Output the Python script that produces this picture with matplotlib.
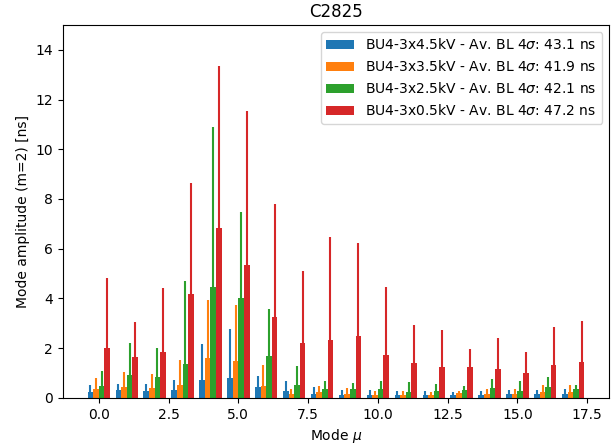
import numpy as np
import matplotlib
matplotlib.use('Agg')
import matplotlib.pyplot as plt

# номера мод
modes = np.arange(18)

labels = [
    r'BU4-3x4.5kV - Av. BL 4$\sigma$: 43.1 ns',
    r'BU4-3x3.5kV - Av. BL 4$\sigma$: 41.9 ns',
    r'BU4-3x2.5kV - Av. BL 4$\sigma$: 42.1 ns',
    r'BU4-3x0.5kV - Av. BL 4$\sigma$: 47.2 ns',
]

# средние амплитуды
amp_45 = [0.22, 0.30, 0.26, 0.32, 0.73, 0.80, 0.45, 0.26, 0.16, 0.12, 0.11, 0.11, 0.10, 0.12, 0.12, 0.14, 0.16, 0.16]
amp_35 = [0.36, 0.45, 0.40, 0.53, 1.59, 1.48, 0.47, 0.16, 0.23, 0.15, 0.11, 0.11, 0.10, 0.18, 0.16, 0.16, 0.23, 0.23]
amp_25 = [0.49, 0.93, 0.84, 1.35, 4.47, 4.00, 1.67, 0.53, 0.36, 0.36, 0.34, 0.23, 0.26, 0.31, 0.38, 0.26, 0.42, 0.35]
amp_05 = [2.02, 1.63, 1.86, 4.19, 6.83, 5.35, 3.25, 2.22, 2.33, 2.47, 1.71, 1.40, 1.24, 1.24, 1.16, 1.00, 1.31, 1.44]

# разброс (ошибки вверх)
err_45 = [0.31, 0.27, 0.31, 0.41, 1.45, 1.98, 0.43, 0.40, 0.29, 0.18, 0.20, 0.18, 0.16, 0.11, 0.15, 0.16, 0.15, 0.18]
err_35 = [0.45, 0.59, 0.56, 0.98, 2.33, 2.24, 0.85, 0.18, 0.26, 0.25, 0.15, 0.15, 0.12, 0.11, 0.18, 0.21, 0.27, 0.27]
err_25 = [0.59, 1.27, 1.16, 3.37, 6.44, 3.48, 1.90, 0.74, 0.31, 0.25, 0.35, 0.39, 0.31, 0.16, 0.39, 0.40, 0.42, 0.15]
err_05 = [2.80, 1.42, 2.54, 4.46, 6.52, 6.19, 4.55, 2.89, 4.15, 3.74, 2.76, 1.55, 1.47, 0.71, 1.23, 0.83, 1.55, 1.65]

amps = [amp_45, amp_35, amp_25, amp_05]
errs = [err_45, err_35, err_25, err_05]
colors = ['tab:blue', 'tab:orange', 'tab:green', 'tab:red']

fig, ax = plt.subplots(figsize=(6.16, 4.46), dpi=100)
fig.subplots_adjust(left=0.102, right=0.989, top=0.944, bottom=0.108)

width = 0.2
for k in range(4):
    x = modes + (k - 1.5) * width
    a = np.array(amps[k])
    e = np.array(errs[k])
    ax.bar(x, a, width, color=colors[k], label=labels[k])
    ax.errorbar(x, a, yerr=[np.zeros_like(e), e], fmt='none',
                ecolor=colors[k], elinewidth=1.5)

ax.set_ylim(0, 15)
ax.set_title('C2825')
ax.set_xlabel(r'Mode $\mu$')
ax.set_ylabel('Mode amplitude (m=2) [ns]')
ax.legend(loc='upper right')

fig.savefig('out.png', dpi=100)
